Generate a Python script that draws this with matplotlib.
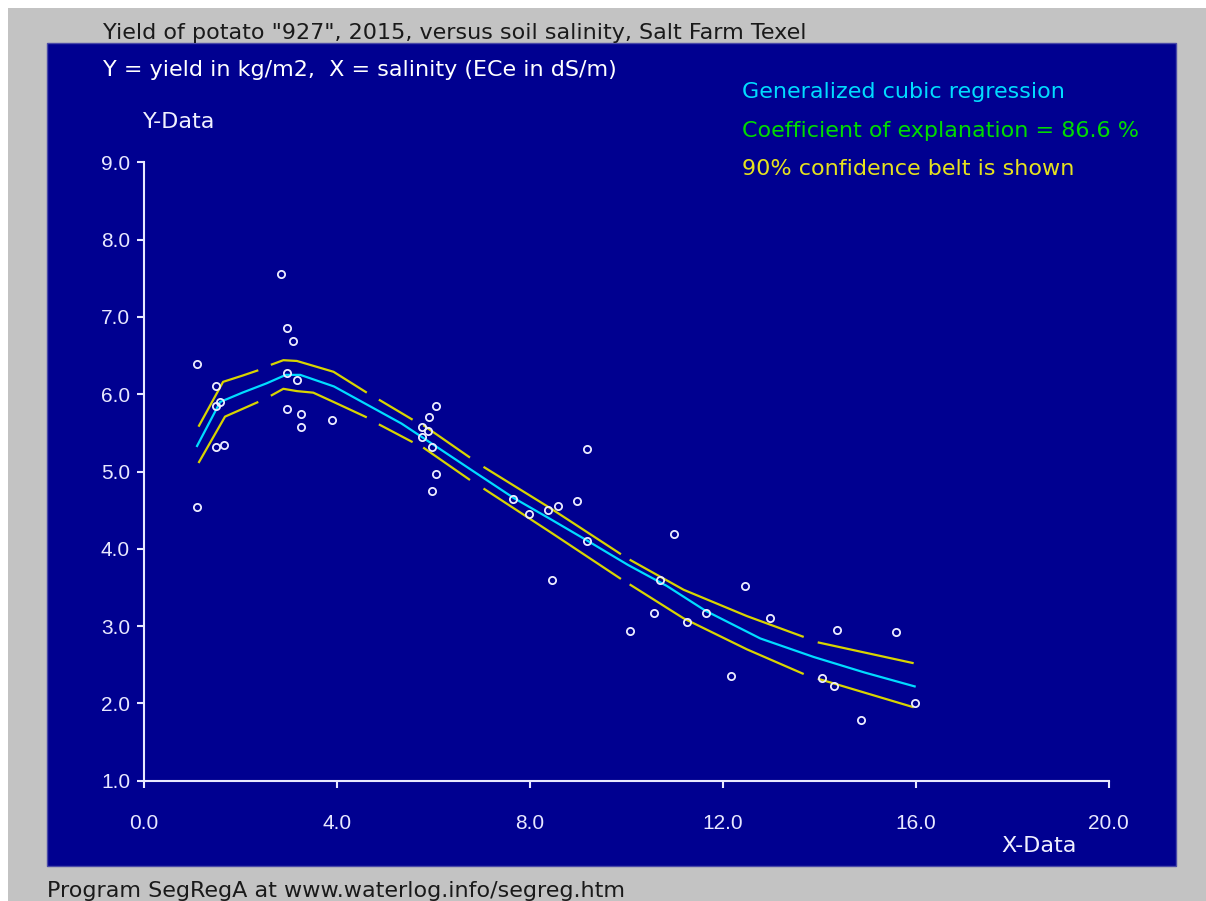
import matplotlib
matplotlib.use("Agg")
import matplotlib.pyplot as plt
from matplotlib.patches import Rectangle

# ---------------- data ----------------
salinity = [1.10, 1.50, 1.58, 1.50, 1.50, 1.66, 1.10, 2.85, 2.97, 3.10, 2.97, 3.18,
            2.97, 3.26, 3.26, 3.90, 6.06, 5.90, 5.76, 5.88, 5.76, 5.97, 6.06, 5.97,
            9.18, 7.66, 7.98, 8.38, 8.59, 8.98, 9.18, 8.46, 10.98, 10.70, 12.47, 10.58,
            10.07, 11.66, 11.26, 12.99, 12.18, 14.38, 15.59, 14.06, 14.30, 15.98, 14.87]
yield_kg = [6.39, 6.10, 5.90, 5.85, 5.32, 5.34, 4.54, 7.56, 6.86, 6.69, 6.27, 6.19,
            5.81, 5.74, 5.57, 5.67, 5.85, 5.70, 5.57, 5.52, 5.45, 5.32, 4.97, 4.75,
            5.29, 4.65, 4.45, 4.50, 4.55, 4.62, 4.10, 3.59, 4.19, 3.59, 3.52, 3.17,
            2.94, 3.17, 3.05, 3.10, 2.35, 2.95, 2.93, 2.33, 2.22, 2.01, 1.78]

curve_x = [1.10, 1.58, 2.04, 2.54, 2.94, 3.24, 3.94, 4.64, 5.34, 5.97, 6.74, 7.66,
           8.44, 9.18, 10.04, 10.84, 11.64, 12.78, 13.89, 14.94, 15.98]
curve_y = [5.33, 5.90, 6.02, 6.14, 6.25, 6.25, 6.10, 5.86, 5.62, 5.36, 5.04, 4.66,
           4.38, 4.11, 3.79, 3.52, 3.20, 2.84, 2.60, 2.40, 2.22]

upper_x = [[1.13, 1.64, 2.04, 2.37], [2.63, 2.89, 3.17, 3.93, 4.62], [4.87, 5.57],
           [5.79, 6.76], [7.04, 8.44, 9.89], [10.07, 11.19, 12.50, 13.68], [13.97, 15.96]]
upper_y = [[5.58, 6.16, 6.24, 6.31], [6.38, 6.44, 6.43, 6.29, 6.02], [5.93, 5.67],
           [5.60, 5.18], [5.06, 4.52, 3.93], [3.86, 3.47, 3.13, 2.86], [2.79, 2.52]]
lower_x = [[1.13, 1.68, 2.37], [2.63, 2.89, 3.17, 3.51, 3.93, 4.62], [4.87, 5.57],
           [5.79, 6.76], [7.04, 8.44, 9.89], [10.07, 11.19, 12.50, 13.68], [13.97, 15.96]]
lower_y = [[5.11, 5.71, 5.90], [5.98, 6.07, 6.04, 6.02, 5.90, 5.70], [5.61, 5.38],
           [5.31, 4.89], [4.78, 4.21, 3.61], [3.54, 3.10, 2.70, 2.38], [2.32, 1.95]]

x_ticks = [0, 4, 8, 12, 16, 20]
x_ticklabels = ["0.0", "4.0", "8.0", "12.0", "16.0", "20.0"]
y_ticks = [1, 2, 3, 4, 5, 6, 7, 8, 9]
y_ticklabels = ["1.0", "2.0", "3.0", "4.0", "5.0", "6.0", "7.0", "8.0", "9.0"]

title = 'Yield of potato "927", 2015, versus soil salinity, Salt Farm Texel'
subtitle = "Y = yield in kg/m2,  X = salinity (ECe in dS/m)"
legend_lines = ["Generalized cubic regression",
                "Coefficient of explanation = 86.6 %",
                "90% confidence belt is shown"]
footer = "Program SegRegA at www.waterlog.info/segreg.htm"

# ---------------- style ----------------
W, H = 1206, 901
NAVY = "#000090"
GREY = "#c3c3c3"
CYAN = "#00dcff"
GREEN = "#00dc00"
YELLOW = "#d8d400"
YELLOW_TXT = "#e6e21e"
AXIS = "#e8e8ff"
FS = 16

plt.rcParams["font.family"] = ["DejaVu Sans"]

fig = plt.figure(figsize=(W / 100, H / 100), dpi=100, facecolor="white")


def fx(px):
    return px / W


def fy(py):
    return 1 - py / H


# background panels
fig.patches.append(Rectangle((fx(8), 0), fx(W) - fx(8), fy(8), transform=fig.transFigure,
                             facecolor=GREY, edgecolor="none", zorder=-2))
fig.patches.append(Rectangle((fx(47), fy(866)), fx(1175.5) - fx(47), fy(43) - fy(866),
                             transform=fig.transFigure, facecolor=NAVY,
                             edgecolor="#4a4aa8", linewidth=1.0, zorder=-1))

ax = fig.add_axes([fx(144), fy(780.7), fx(1108.5) - fx(144), fy(162.3) - fy(780.7)])
ax.set_zorder(5)
ax.patch.set_visible(False)
ax.set_xlim(0, 20)
ax.set_ylim(1, 9)
for s in ["top", "right"]:
    ax.spines[s].set_visible(False)
for s in ["left", "bottom"]:
    ax.spines[s].set_color(AXIS)
    ax.spines[s].set_linewidth(1.5)

ax.set_xticks(x_ticks)
ax.set_xticklabels(x_ticklabels, family="Liberation Sans")
ax.set_yticks(y_ticks)
ax.set_yticklabels(y_ticklabels, family="Liberation Sans")
ax.tick_params(axis="x", direction="out", length=5, width=1.5, colors=AXIS,
               labelsize=15, pad=19, labelcolor=AXIS)
ax.tick_params(axis="y", direction="out", length=5, width=1.5, colors=AXIS,
               labelsize=15, pad=5, labelcolor=AXIS)

# confidence belt
for xs, ys in zip(upper_x, upper_y):
    ax.plot(xs, ys, color=YELLOW, lw=1.6, solid_capstyle="butt", zorder=2, clip_on=False)
for xs, ys in zip(lower_x, lower_y):
    ax.plot(xs, ys, color=YELLOW, lw=1.6, solid_capstyle="butt", zorder=2, clip_on=False)

# regression curve
ax.plot(curve_x, curve_y, color=CYAN, lw=1.6, zorder=3, clip_on=False)

# observations
ax.plot(salinity, yield_kg, linestyle="none", marker="o", ms=5.2, mew=1.3,
        mfc="none", mec="#ececff", zorder=4, clip_on=False)

# texts
fig.text(fx(103), fy(39), title, color="#1a1a1a", fontsize=FS, va="baseline", ha="left")
fig.text(fx(103), fy(76), subtitle, color="white", fontsize=FS, va="baseline", ha="left")
fig.text(fx(143), fy(128.5), "Y-Data", color="#f0f0ff", fontsize=FS, va="baseline", ha="left")
fig.text(fx(1001), fy(851.5), "X-Data", color="#f0f0ff", fontsize=FS, va="baseline", ha="left")
for txt, col, base in zip(legend_lines, [CYAN, GREEN, YELLOW_TXT], [98.3, 137.3, 175]):
    fig.text(fx(742.5), fy(base), txt, color=col, fontsize=FS, va="baseline", ha="left")
fig.text(fx(47), fy(897), footer, color="#1a1a1a", fontsize=FS, va="baseline", ha="left")

fig.savefig("out.png", dpi=100, facecolor="white")
